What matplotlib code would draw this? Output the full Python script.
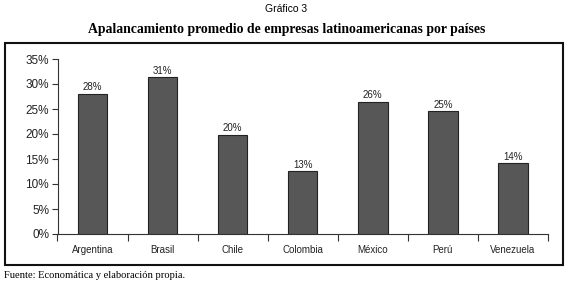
import matplotlib.pyplot as plt
import numpy as np
from matplotlib.patches import Rectangle
import matplotlib.ticker as ticker

paises = ['Argentina', 'Brasil', 'Chile', 'Colombia', 'México', 'Perú', 'Venezuela']
apalancamiento = [28.1, 31.4, 19.9, 12.6, 26.4, 24.6, 14.2]
etiquetas = ['28%', '31%', '20%', '13%', '26%', '25%', '14%']
yticks = [0, 5, 10, 15, 20, 25, 30, 35]

fig = plt.figure(figsize=(5.73, 2.87), dpi=100)
ax = fig.add_axes([57.5 / 573, 53 / 287, (548 - 57.5) / 573, 175 / 287])

x = np.arange(len(paises))
ax.bar(x, apalancamiento, width=0.42, color='#575757', edgecolor='#222222', linewidth=0.8, zorder=2)
for xi, v, t in zip(x, apalancamiento, etiquetas):
    ax.text(xi, v + 0.3, t, ha='center', va='bottom', fontsize=7, family='Liberation Sans', color='#222222')

ax.set_xlim(-0.5, len(paises) - 0.5)
ax.set_ylim(0, 35)
ax.set_yticks(yticks)
ax.set_yticklabels([f'{v}%' for v in yticks], family='Liberation Sans', fontsize=8.5, color='#222222')
ax.set_xticks(x)
ax.set_xticklabels(paises, family='Liberation Sans', fontsize=7, color='#222222')
ax.xaxis.set_minor_locator(ticker.FixedLocator(np.arange(-0.5, len(paises), 1)))
ax.tick_params(axis='x', which='major', length=0, pad=8)
ax.tick_params(axis='x', which='minor', length=5, width=0.8, direction='out', color='#333333')
ax.tick_params(axis='y', length=4, width=0.8, color='#333333', pad=2)
for s in ['top', 'right']:
    ax.spines[s].set_visible(False)
for s in ['left', 'bottom']:
    ax.spines[s].set_linewidth(0.8)
    ax.spines[s].set_color('#333333')

# marco exterior
fig.patches.append(Rectangle((4.5 / 573, 1 - 265 / 287), (563 - 4.5) / 573, (265 - 43) / 287,
                             transform=fig.transFigure, fill=False, edgecolor='#111111', linewidth=1.5))

fig.text(0.5, 1 - 9 / 287, 'Gráfico 3', ha='center', va='center', family='Liberation Sans', fontsize=7.5)
fig.text(0.5, 1 - 29 / 287, 'Apalancamiento promedio de empresas latinoamericanas por países',
         ha='center', va='center', family='Liberation Serif', fontweight='bold', fontsize=9.9)
fig.text(4 / 573, 1 - 275 / 287, 'Fuente: Economática y elaboración propia.', ha='left', va='center',
         family='Liberation Serif', fontsize=7.6)

fig.savefig('out.png', dpi=100)
